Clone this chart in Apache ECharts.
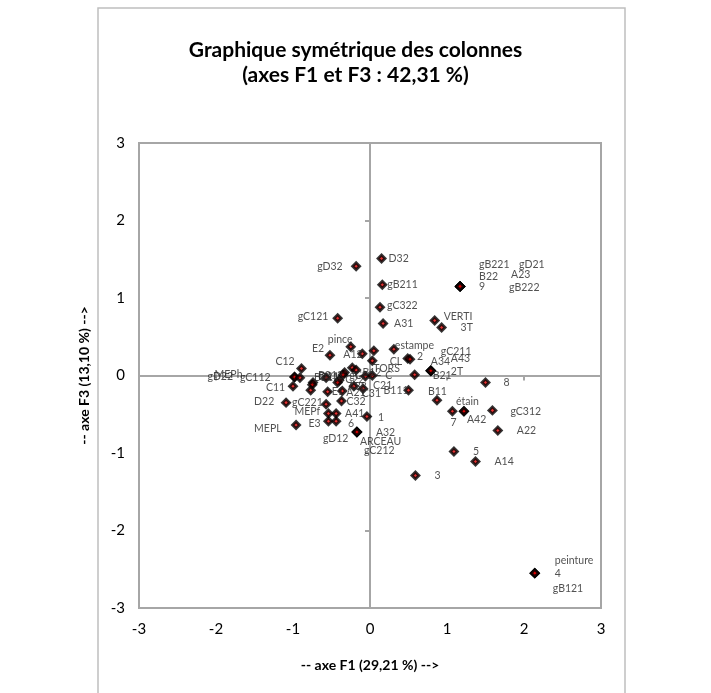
<!DOCTYPE html>
<html><head><meta charset="utf-8">
<script src="https://cdn.jsdelivr.net/npm/echarts@6/dist/echarts.min.js"></script>
<style>html,body{margin:0;padding:0;background:#fff}#c{width:711px;height:693px}</style>
</head><body><div id="c"></div>
<script>
// Point labels and coordinates (F1, F3)
const labels = ["D32","gB211","gC322","A31","gD32","gC121","pince","E2","A12","","TORS","estampe","CL","2","B21","A34","gC211","A43","2T","VERTI","3T",
"gB221","gD21","B22","A23","9","gB222","B111","C21","B11","8","7","étain","A42","gC312","A22","5","A14","3","peinture","4","gB121",
"C12","C11","D22","gC221","MEPf","A41","E3","6","MEPL","1","gD12","A32","ARCEAU","gC212","C32","E1","A21","C31","C22","A33","D21","B212","gC22","","B12","C",
"gD22","MEPh","gC112","B211","","",""];
const xs = [0.15,0.16,0.13,0.17,-0.18,-0.42,-0.25,-0.52,-0.10,0.05,0.03,0.31,0.49,0.52,0.58,0.79,0.79,0.79,0.79,0.84,0.93,
1.17,1.17,1.17,1.17,1.17,1.17,0.50,-0.09,0.87,1.50,1.07,1.22,1.22,1.59,1.66,1.09,1.37,0.59,2.14,2.14,2.14,
-0.89,-1.00,-1.09,-0.57,-0.54,-0.44,-0.54,-0.44,-0.96,-0.04,-0.17,-0.17,-0.17,-0.17,-0.37,-0.55,-0.36,-0.21,-0.40,-0.42,-0.33,-0.35,-0.23,-0.18,-0.06,0.03,
-0.98,-0.98,-0.91,-0.57,-0.74,-0.75,-0.77];
const ys = [1.51,1.17,0.88,0.67,1.41,0.74,0.37,0.26,0.28,0.32,0.19,0.34,0.22,0.21,0.01,0.06,0.06,0.06,0.06,0.71,0.62,
1.15,1.15,1.15,1.15,1.15,1.15,-0.19,-0.17,-0.32,-0.09,-0.46,-0.46,-0.46,-0.45,-0.71,-0.98,-1.11,-1.29,-2.55,-2.55,-2.55,
0.09,-0.14,-0.35,-0.37,-0.49,-0.49,-0.59,-0.59,-0.64,-0.53,-0.73,-0.73,-0.73,-0.73,-0.33,-0.21,-0.20,-0.14,-0.06,-0.09,0.04,0.01,0.10,0.07,-0.01,0.00,
-0.02,-0.02,-0.03,-0.03,-0.09,-0.12,-0.19];
const ticks = [-3,-2,-1,0,1,2,3];
const titleText = "Graphique symétrique des colonnes\n(axes F1 et F3 : 42,31 %)";
const xName = "-- axe F1 (29,21 %) -->";
const yName = "-- axe F3 (13,10 %) -->";

// label placement (pixel offsets of label left edge / middle from the point)
const labelDx = [7,5,7,11,-39,-40,-23,-18,-19,0,1,1,-18,7,18,0,10,20,20,9,19,
19,59,19,51,19,49,-25,10,-9,18,-2,-8,3,18,19,19,19,19,20,20,18,
-26,-27,-32,-34,-34,9,-20,12,-42,11,-34,19,3,7,5,4,4,8,6,10,-26,-25,-3,0,-3,13,
-87,-80,-60,-12,0,0,0];
const labelDy = [0,0,-2,0,0,-2,-7,-7,1,0,8,-4,3,-3,1,-9,-19,-12,1,-4,0,
-22,-22,-10,-12,0,1,0,-3,-9,0,11,-10,8,1,0,0,0,0,-13,0,15,
-7,1,-1,-2,-2,0,2,2,4,1,7,1,10,19,1,0,2,7,-1,4,4,1,8,0,-4,0,
0,-2,0,0,0,0,0];

const data = labels.map((l,i)=>({
  name:l, value:[xs[i],ys[i]],
  label:{show:l!=="",position:'inside',align:'left',verticalAlign:'middle',offset:[labelDx[i],labelDy[i]]}
}));

const chart = echarts.init(document.getElementById('c'));
const gray = '#a6a6a6';
chart.setOption({
  animation:false,
  backgroundColor:'#fff',
  graphic:[{type:'rect',shape:{x:98,y:8,width:527,height:700},style:{fill:'none',stroke:'#bfbfbf',lineWidth:1.5},z:-10}],
  title:{text:titleText,left:'center',top:33,textStyle:{fontFamily:'Lato',fontWeight:'bold',fontSize:21,lineHeight:25,color:'#000'}},
  grid:{left:139,right:110,top:143,bottom:85,show:true,borderColor:gray,borderWidth:2,backgroundColor:'#fff'},
  xAxis:[
    {type:'value',min:-3,max:3,interval:1,position:'bottom',
     axisLine:{show:false,onZero:false},axisTick:{show:false},splitLine:{show:false},
     axisLabel:{margin:14,fontFamily:'Lato',fontSize:15,color:'#000'},
     name:xName,nameLocation:'middle',nameGap:50,nameTextStyle:{fontFamily:'Lato',fontWeight:'bold',fontSize:14,color:'#000'}},
    {type:'value',min:-3,max:3,interval:1,position:'bottom',
     axisLine:{show:true,onZero:true,onZeroAxisIndex:1,lineStyle:{color:gray,width:2}},
     axisTick:{show:true,length:5,lineStyle:{color:gray,width:2}},axisLabel:{show:false},splitLine:{show:false}}
  ],
  yAxis:[
    {type:'value',min:-3,max:3,interval:1,position:'left',
     axisLine:{show:false,onZero:false},axisTick:{show:false},splitLine:{show:false},
     axisLabel:{margin:14,fontFamily:'Lato',fontSize:15,color:'#000'},
     name:yName,nameLocation:'middle',nameGap:48,nameRotate:90,nameTextStyle:{fontFamily:'Lato',fontWeight:'bold',fontSize:14,color:'#000'}},
    {type:'value',min:-3,max:3,interval:1,position:'left',
     axisLine:{show:true,onZero:true,onZeroAxisIndex:1,lineStyle:{color:gray,width:2}},
     axisTick:{show:true,length:5,lineStyle:{color:gray,width:2}},axisLabel:{show:false},splitLine:{show:false}}
  ],
  series:[{
    type:'scatter',xAxisIndex:0,yAxisIndex:0,data:data,
    symbol:'diamond',symbolSize:7,
    itemStyle:{color:'#e00000',borderColor:'#000',borderWidth:2.8},
    label:{formatter:'{b}',fontFamily:'Lato',fontSize:10.5,color:'#262626'},
    emphasis:{disabled:true}
  }]
});
</script></body></html>
